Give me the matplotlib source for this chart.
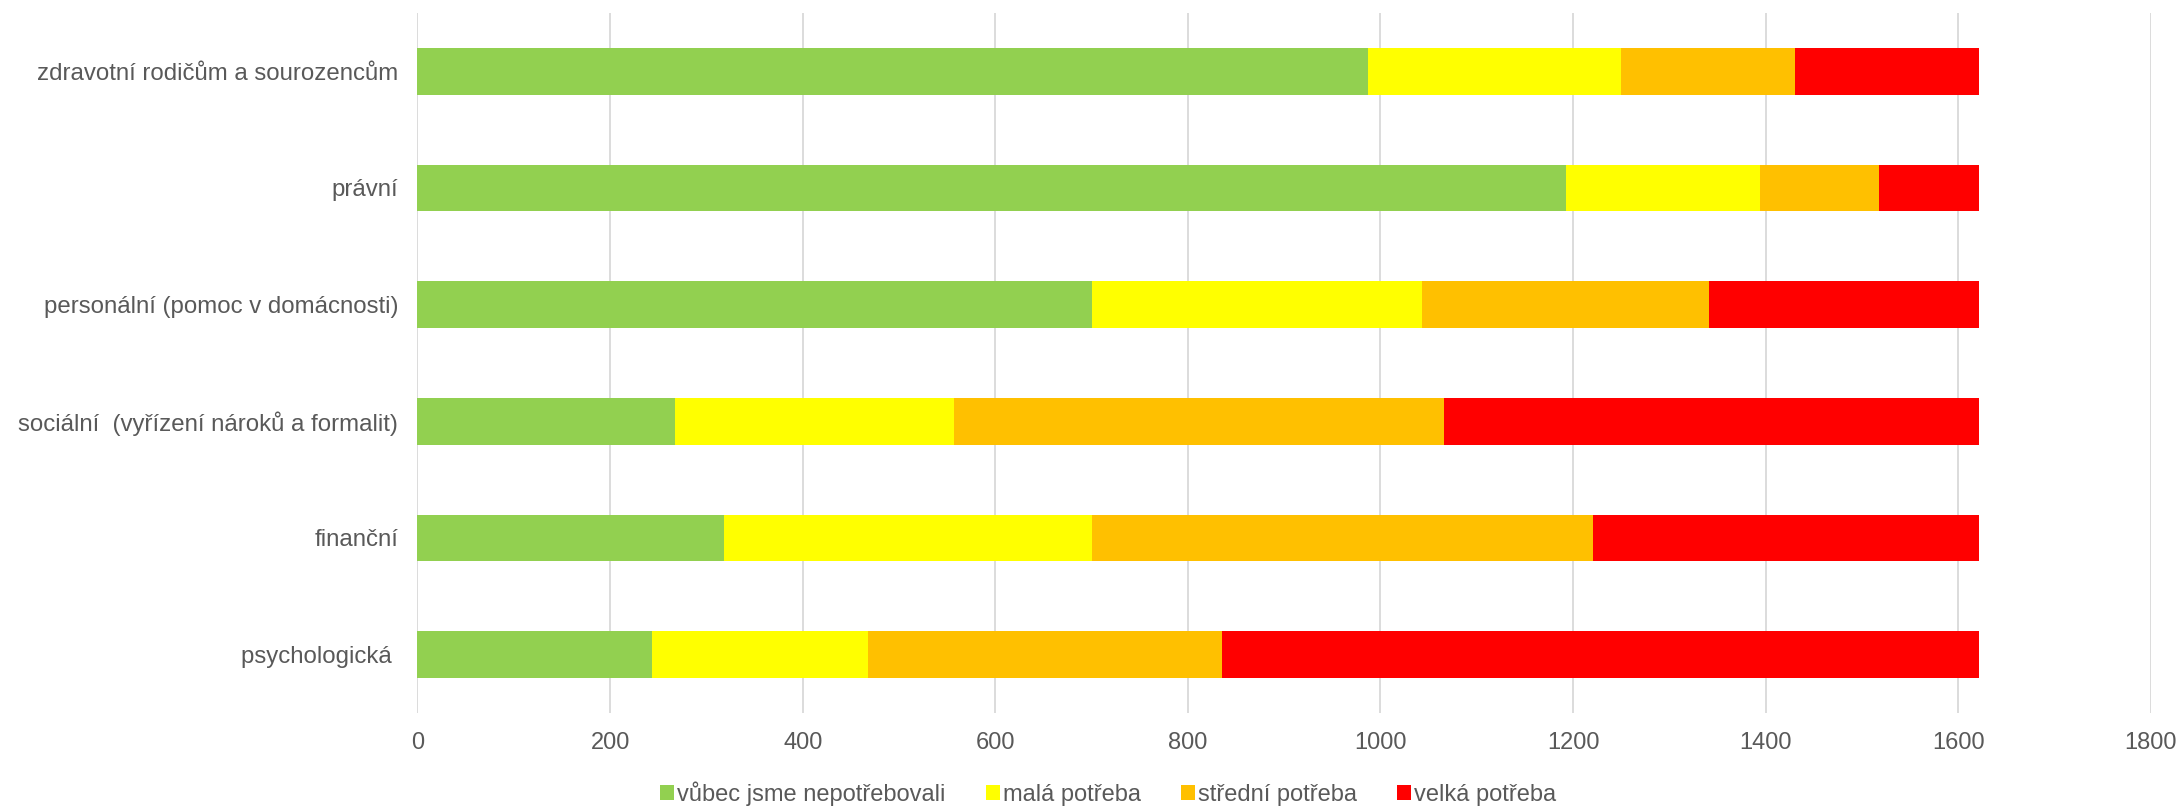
import matplotlib.pyplot as plt
import numpy as np

plt.rcParams['font.family'] = ['Liberation Sans', 'DejaVu Sans']

# kategorie shora dolu
kategorie = [
    "zdravotní rodičům a sourozencům",
    "právní",
    "personální (pomoc v domácnosti)",
    "sociální  (vyřízení nároků a formalit)",
    "finanční",
    "psychologická ",
]

vubec = [987, 1193, 700, 267, 318, 243]
mala = [263, 201, 343, 290, 382, 225]
stredni = [180, 124, 298, 509, 521, 367]
velka = [192, 104, 281, 556, 401, 787]

serie = ["vůbec jsme nepotřebovali", "malá potřeba", "střední potřeba", "velká potřeba"]
barvy = ["#92D050", "#FFFF00", "#FFC000", "#FF0000"]
xticks = [0, 200, 400, 600, 800, 1000, 1200, 1400, 1600, 1800]

text_barva = "#595959"

fig = plt.figure(figsize=(21.79, 8.07), dpi=100)
ax = fig.add_axes([0.1916, 0.1165, 0.7955, 0.8674])

y = np.arange(len(kategorie))
left = np.zeros(len(kategorie))
for hodnoty, nazev, barva in zip([vubec, mala, stredni, velka], serie, barvy):
    ax.barh(y, hodnoty, left=left, height=0.4, color=barva, label=nazev, zorder=2)
    left += np.array(hodnoty)

ax.set_ylim(len(kategorie) - 0.5, -0.5)
ax.set_xlim(0, 1800)
ax.set_xticks(xticks)
ax.set_yticks(y)
ax.set_yticklabels(kategorie)

ax.grid(axis='x', color='#D9D9D9', linewidth=1.3, zorder=0)
ax.set_axisbelow(True)
for s in ax.spines.values():
    s.set_visible(False)
ax.tick_params(axis='both', length=0, labelcolor=text_barva)
ax.tick_params(axis='x', pad=14, labelsize=17)
ax.tick_params(axis='y', pad=14, labelsize=17.3)

fig.legend(loc='center', bbox_to_anchor=(1108 / 2179, 1 - 794 / 807), ncol=4,
           frameon=False, fontsize=17, labelcolor=text_barva,
           handlelength=0.6, handleheight=0.6, handletextpad=0.12,
           columnspacing=1.7)

fig.savefig("out.png", dpi=100)
